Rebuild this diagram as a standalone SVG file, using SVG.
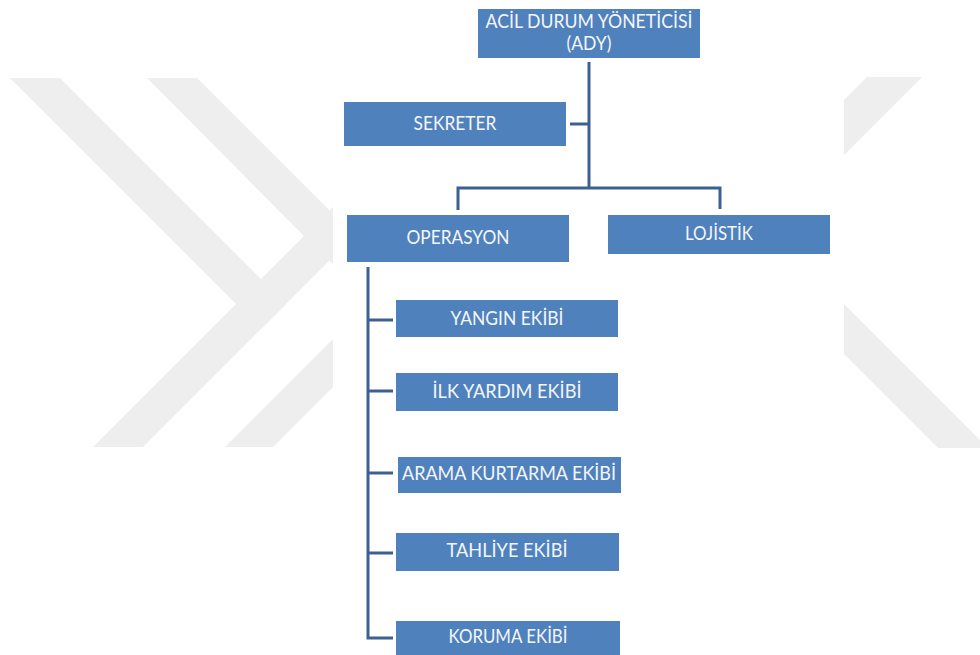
<svg xmlns="http://www.w3.org/2000/svg" width="980" height="655" viewBox="0 0 980 655">
  <style>
    .wm { fill: #eeeeee; }
    .box { fill: #4f81bd; }
    .lbl { fill: #f4f6fa; font-family: "Lato", "Open Sans", "Liberation Sans", sans-serif; font-size: 19px; text-anchor: middle; }
    .con { fill: none; stroke: #3c6190; stroke-width: 3; stroke-linejoin: miter; }
  </style>
  <rect x="0" y="0" width="980" height="655" fill="#ffffff"/>
  <g id="watermark">
    <polygon class="wm" points="10,78 60,78 286,304 261,329 236,304"/>
    <polygon class="wm" points="93,447 143,447 333,257 333,207 236,304"/>
    <polygon class="wm" points="147,78 197,78 333,214 333,264 305,237"/>
    <polygon class="wm" points="225,447 273,447 333,387 333,339"/>
    <polygon class="wm" points="867,77 922,77 844,155 844,100"/>
    <polygon class="wm" points="844,304 844,354 938,448 980,448 980,440"/>
  </g>
  <g id="connectors">
    <path class="con" d="M589,62 V188"/>
    <path class="con" d="M570,124 H589"/>
    <path class="con" d="M458,210 V188 H720 V209"/>
    <path class="con" d="M368,267 V638 H393"/>
    <path class="con" d="M368,320 H393"/>
    <path class="con" d="M368,391 H393"/>
    <path class="con" d="M368,473 H393"/>
    <path class="con" d="M368,553 H393"/>
  </g>
  <g id="ady">
    <rect class="box" x="478" y="9" width="222" height="49"/>
    <text class="lbl" x="589" y="28" textLength="207" lengthAdjust="spacingAndGlyphs">ACİL DURUM YÖNETİCİSİ</text>
    <text class="lbl" x="589" y="50" textLength="45" lengthAdjust="spacingAndGlyphs">(ADY)</text>
  </g>
  <g id="sekreter">
    <rect class="box" x="344" y="102" width="222" height="44"/>
    <text class="lbl" x="455" y="130" textLength="83" lengthAdjust="spacingAndGlyphs">SEKRETER</text>
  </g>
  <g id="operasyon">
    <rect class="box" x="347" y="215" width="222" height="47"/>
    <text class="lbl" x="458" y="244" textLength="103" lengthAdjust="spacingAndGlyphs">OPERASYON</text>
  </g>
  <g id="lojistik">
    <rect class="box" x="608" y="215" width="222" height="39"/>
    <text class="lbl" x="719" y="240" textLength="68" lengthAdjust="spacingAndGlyphs">LOJİSTİK</text>
  </g>
  <g id="yangin">
    <rect class="box" x="396" y="300" width="222" height="37"/>
    <text class="lbl" x="507" y="325" textLength="113" lengthAdjust="spacingAndGlyphs">YANGIN EKİBİ</text>
  </g>
  <g id="ilkyardim">
    <rect class="box" x="396" y="373" width="222" height="38"/>
    <text class="lbl" x="507" y="398" textLength="149" lengthAdjust="spacingAndGlyphs">İLK YARDIM EKİBİ</text>
  </g>
  <g id="aramakurtarma">
    <rect class="box" x="398" y="457" width="223" height="36"/>
    <text class="lbl" x="509" y="480" textLength="214" lengthAdjust="spacingAndGlyphs">ARAMA KURTARMA EKİBİ</text>
  </g>
  <g id="tahliye">
    <rect class="box" x="396" y="533" width="223" height="38"/>
    <text class="lbl" x="507" y="557" textLength="121" lengthAdjust="spacingAndGlyphs">TAHLİYE EKİBİ</text>
  </g>
  <g id="koruma">
    <rect class="box" x="396" y="621" width="224" height="34"/>
    <text class="lbl" x="508" y="643" textLength="119" lengthAdjust="spacingAndGlyphs">KORUMA EKİBİ</text>
  </g>
</svg>
